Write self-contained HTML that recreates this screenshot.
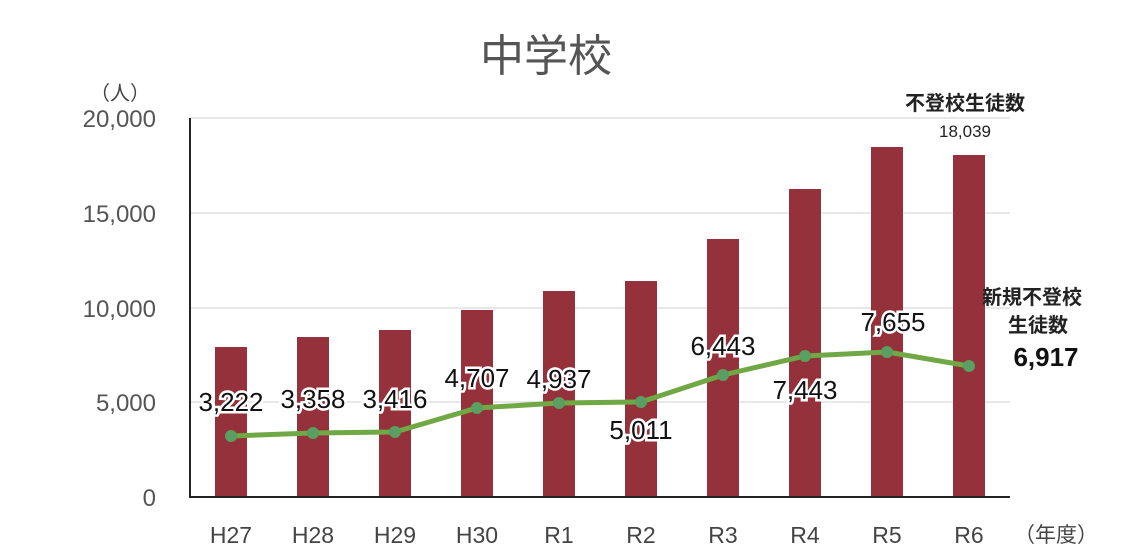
<!DOCTYPE html>
<html><head><meta charset="utf-8"><style>body{margin:0;background:#fff}svg{display:block}
text{font-family:"Liberation Sans","Noto Sans CJK JP",sans-serif}</style></head><body>
<svg width="1124" height="559" viewBox="0 0 1124 559">
<text x="546" y="71" font-size="44" text-anchor="middle" fill="#555">中学校</text>
<text x="90" y="100" font-size="20" fill="#444">（人）</text>
<g stroke="#d0d0d0" stroke-width="1">
<line x1="190" y1="118" x2="1010" y2="118"/><line x1="190" y1="213" x2="1010" y2="213"/>
<line x1="190" y1="308" x2="1010" y2="308"/><line x1="190" y1="402" x2="1010" y2="402"/></g>
<g font-size="24" fill="#555" text-anchor="end">
<text x="156" y="127">20,000</text><text x="156" y="222">15,000</text><text x="156" y="317">10,000</text>
<text x="156" y="411">5,000</text><text x="156" y="506">0</text></g>
<g fill="#94313a">
<rect x="215" y="347" width="32" height="150"/><rect x="297" y="337" width="32" height="160"/>
<rect x="379" y="330" width="32" height="167"/><rect x="461" y="310" width="32" height="187"/>
<rect x="543" y="291" width="32" height="206"/><rect x="625" y="281" width="32" height="216"/>
<rect x="707" y="239" width="32" height="258"/><rect x="789" y="189" width="32" height="308"/>
<rect x="871" y="147" width="32" height="350"/><rect x="953" y="155" width="32" height="342"/></g>
<line x1="190" y1="118" x2="190" y2="497" stroke="#222" stroke-width="2"/>
<line x1="189" y1="497" x2="1010" y2="497" stroke="#222" stroke-width="2"/>
<polyline points="231,436 313,433 395,432 477,408 559,403 641,402 723,375 805,356 887,352 969,366" fill="none" stroke="#70a845" stroke-width="5"/>
<g fill="#5a9e62"><circle cx="231" cy="436" r="6"/><circle cx="313" cy="433" r="6"/><circle cx="395" cy="432" r="6"/><circle cx="477" cy="408" r="6"/><circle cx="559" cy="403" r="6"/><circle cx="641" cy="402" r="6"/><circle cx="723" cy="375" r="6"/><circle cx="805" cy="356" r="6"/><circle cx="887" cy="352" r="6"/><circle cx="969" cy="366" r="6"/></g>
<g font-size="26" text-anchor="middle" fill="#111" stroke="#fff" stroke-width="5" paint-order="stroke">
<text x="231" y="411">3,222</text><text x="313" y="408">3,358</text><text x="395" y="408">3,416</text>
<text x="477" y="387">4,707</text><text x="559" y="388">4,937</text><text x="641" y="439">5,011</text>
<text x="723" y="355">6,443</text><text x="805" y="399">7,443</text><text x="893" y="331">7,655</text></g>
<g font-size="23" fill="#444" text-anchor="middle">
<text x="231" y="543">H27</text><text x="313" y="543">H28</text><text x="395" y="543">H29</text><text x="477" y="543">H30</text>
<text x="559" y="543">R1</text><text x="641" y="543">R2</text><text x="723" y="543">R3</text><text x="805" y="543">R4</text>
<text x="887" y="543">R5</text><text x="969" y="543">R6</text></g>
<text x="1014" y="542" font-size="21" fill="#444">（年度）</text>
<text x="965" y="110" font-size="20" font-weight="bold" fill="#222" text-anchor="middle">不登校生徒数</text>
<text x="965" y="137" font-size="17" fill="#222" text-anchor="middle">18,039</text>
<text x="1032" y="304" font-size="20" font-weight="bold" fill="#222" text-anchor="middle">新規不登校</text>
<text x="1038" y="332" font-size="20" font-weight="bold" fill="#222" text-anchor="middle">生徒数</text>
<text x="1046" y="366" font-size="26" font-weight="bold" fill="#111" text-anchor="middle">6,917</text>
</svg></body></html>
